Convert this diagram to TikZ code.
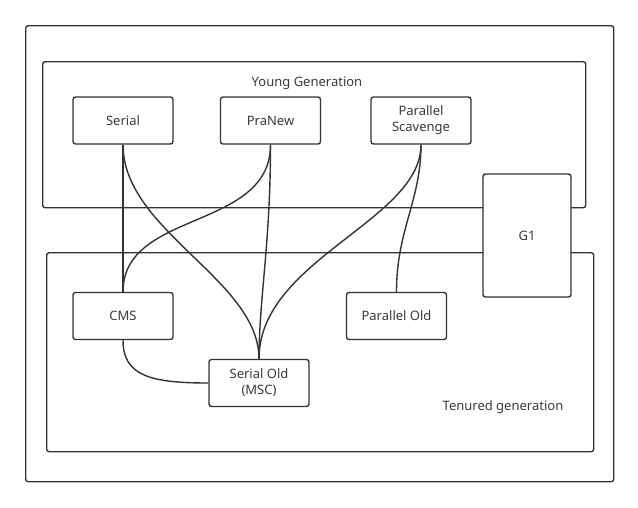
\documentclass[tikz,border=0pt]{standalone}
\usepackage{fontspec}
\setmainfont{Noto Sans}
\usetikzlibrary{calc}
\definecolor{colorline}{HTML}{333333}
\definecolor{colortext}{HTML}{3A3A3A}
\tikzset{
    region box/.style={draw=colorline, line width=1.4pt, rounded corners=2.5pt,
        inner sep=0pt, anchor=north west},
    gc box/.style={draw=colorline, fill=white, line width=1.4pt, rounded corners=2.5pt,
        minimum width=100pt, minimum height=47pt, inner sep=0pt, align=center,
        text=colortext, font=\fontsize{13}{16}\selectfont},
    gc label/.style={text=colortext, inner sep=0pt, font=\fontsize{13}{16}\selectfont},
    gc link/.style={draw=colorline, line width=1.4pt}
}

\begin{document}
\begin{tikzpicture}[x=1pt, y=-1pt]
        \useasboundingbox (0,0) rectangle (638,507);

        \node [region box, minimum width=588pt, minimum height=456pt] (heap) at (25,25) {};
        \node [region box, minimum width=543pt, minimum height=146pt] (young) at (42,61) {};
        \node [region box, minimum width=547pt, minimum height=199pt] (tenured) at (46,252) {};

        \node [gc label] (younglabel) at (307,83) {Young Generation};
        \node [gc label] (tenuredlabel) at (503,407) {Tenured generation};

        \node [gc box, minimum width=88pt, minimum height=123pt] (g1) at (527,235.5) {G1};

        \node [gc box] (serial) at (123,120.5) {Serial};
        \node [gc box] (pranew) at (270.5,120.5) {PraNew};
        \node [gc box] (scavenge) at (421,120.5) {Parallel\\Scavenge};
        \node [gc box] (cms) at (123,316) {CMS};
        \node [gc box] (serialold) at (259,383) {Serial Old\\(MSC)};
        \node [gc box] (parold) at (396.5,316) {Parallel Old};

        \path [gc link] (serial.south) -- (cms.north);
        \path [gc link] (serial.south) .. controls +(0,86) and +(0,-79) .. (serialold.north);
        \path [gc link] (pranew.south) .. controls +(0,86) and +(0,-82) .. (cms.north);
        \path [gc link] (pranew.south) .. controls +(0,100) and +(0,-60) .. (serialold.north);
        \path [gc link] (scavenge.south) .. controls +(0,76) and +(0,-99) .. (serialold.north);
        \path [gc link] (scavenge.south) .. controls +(0,56) and +(0,-62) .. (parold.north);
        \path [gc link] (cms.south) .. controls +(0,35) and +(-59,0) .. (serialold.west);
    \end{tikzpicture}
\end{document}
